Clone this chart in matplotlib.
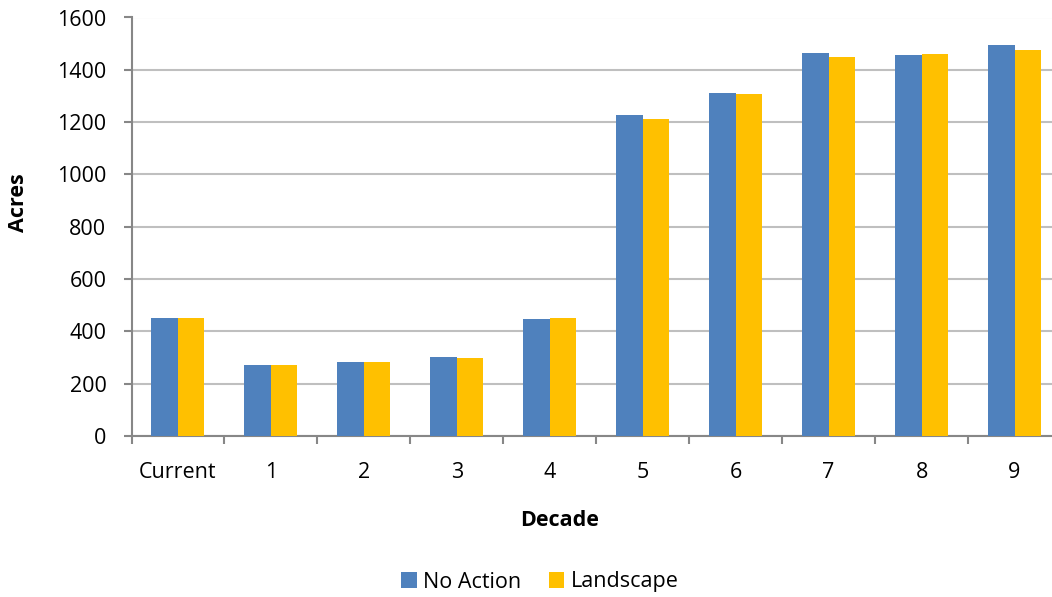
import matplotlib
matplotlib.use("Agg")
import matplotlib.pyplot as plt
import numpy as np

categories = ["Current", "1", "2", "3", "4", "5", "6", "7", "8", "9"]
no_action = [451, 272, 283, 302, 447, 1228, 1311, 1466, 1457, 1493]
landscape = [451, 272, 283, 298, 450, 1211, 1308, 1449, 1459, 1476]
yticks = [0, 200, 400, 600, 800, 1000, 1200, 1400, 1600]

plt.rcParams['font.family'] = ['Open Sans', 'DejaVu Sans']

W, H = 1052, 597
fig = plt.figure(figsize=(W/100, H/100), dpi=100)
left, right, bottom, top = 131.5, 1061, 436, 17.5
ax = fig.add_axes([left/W, 1-bottom/H, (right-left)/W, (bottom-top)/H])

x = np.arange(len(categories))
bw = 0.285
ax.bar(x - bw/2, no_action, bw, color='#4F81BD', label='No Action', zorder=3)
ax.bar(x + bw/2, landscape, bw, color='#FFC000', label='Landscape', zorder=3)

FS = 15.5
ax.set_xlim(-0.5, len(categories) - 0.5)
ax.set_ylim(0, 1600)
ax.set_yticks(yticks)
ax.set_yticklabels([str(v) for v in yticks], fontsize=FS)
ax.yaxis.grid(True, color='#BFBFBF', linewidth=1.5, zorder=0)
ax.set_axisbelow(True)

ax.set_xticks(x)
ax.set_xticklabels(categories, fontsize=FS)
ax.tick_params(axis='x', which='major', length=0, pad=19)
ax.set_xticks(np.arange(-0.5, len(categories), 1), minor=True)
ax.tick_params(axis='x', which='minor', length=6, width=1.5, color='#878787')
ax.tick_params(axis='y', length=6, width=1.5, color='#878787', pad=12)

for s in ['top', 'right']:
    ax.spines[s].set_visible(False)
for s in ['left', 'bottom']:
    ax.spines[s].set_color('#878787')
    ax.spines[s].set_linewidth(1.5)

fig.text(19/W, 1-203/H, 'Acres', rotation=90, ha='center', va='center',
         fontsize=FS, fontweight='bold')
fig.text(560/W, 1-521/H, 'Decade', ha='center', va='center',
         fontsize=FS, fontweight='bold')

leg = fig.legend(loc='center', bbox_to_anchor=(540/W, 1-582/H), ncol=2,
                 frameon=False, fontsize=FS, handlelength=0.7, handleheight=0.7,
                 columnspacing=1.3, handletextpad=0.3)

fig.savefig('out.png', dpi=100)
